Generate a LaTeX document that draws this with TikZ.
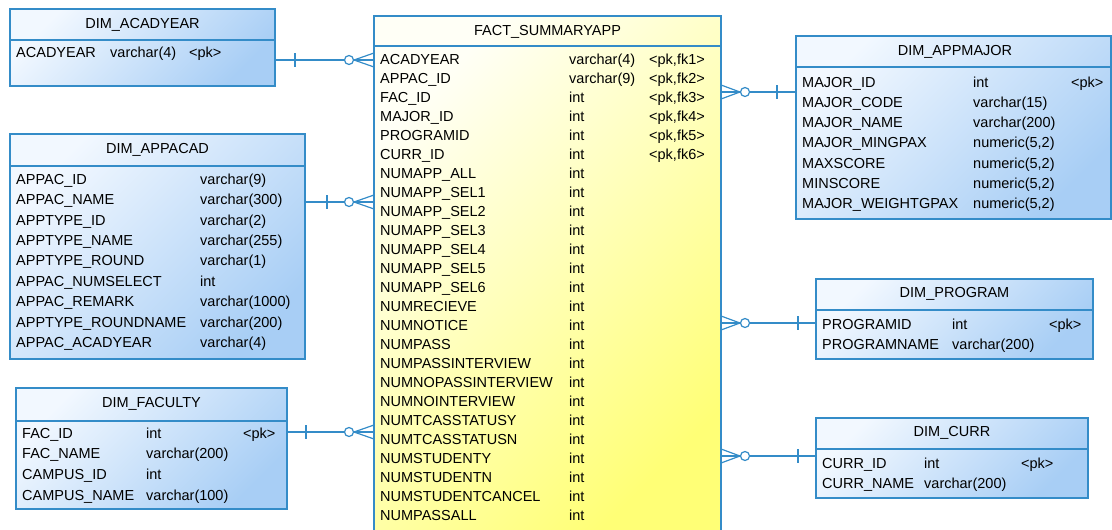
\documentclass[tikz,border=0pt]{standalone}
\usepackage{fontspec}
\setmainfont{Liberation Sans}
\usetikzlibrary{calc}

\definecolor{erblue}{RGB}{52,140,200}
\definecolor{dimA}{RGB}{242,248,255}
\definecolor{dimB}{RGB}{168,206,245}
\definecolor{factA}{RGB}{255,255,246}
\definecolor{factB}{RGB}{255,255,118}
\newcommand{\tabfont}{\fontsize{14.5}{17}\selectfont}

\tikzset{
  dimtab/.style={draw=erblue, line width=1.5pt, top color=dimA, bottom color=dimB,
    shading angle=45, anchor=north west, inner sep=0pt, outer sep=0pt},
  facttab/.style={draw=erblue, line width=1.5pt, top color=factA, bottom color=factB,
    shading angle=45, anchor=north west, inner sep=0pt, outer sep=0pt},
  border/.style={draw=erblue, line width=1.5pt},
  hdr/.style={font=\tabfont, inner sep=0pt},
  fld/.style={font=\tabfont, anchor=base west, yshift=-5.2pt, inner sep=0pt},
  conn/.style={draw=erblue, line width=1.2pt},
}

\begin{document}
\begin{tikzpicture}[x=1pt,y=-1pt]
\useasboundingbox (0,0) rectangle (1112,530);

% tables
\node[dimtab, minimum width=265pt, minimum height=77pt] (acadyear) at (10,9) {};
\node[dimtab, minimum width=295pt, minimum height=225pt] (appacad) at (10,134) {};
\node[dimtab, minimum width=271pt, minimum height=121pt] (faculty) at (16,388) {};
\node[facttab, minimum width=347pt, minimum height=522pt] (fact) at (374,16) {};
\node[dimtab, minimum width=315pt, minimum height=183pt] (appmajor) at (796,36) {};
\node[dimtab, minimum width=277pt, minimum height=80pt] (program) at (816,279) {};
\node[dimtab, minimum width=272pt, minimum height=80pt] (curr) at (816,418) {};

% header lines
\draw[border] (acadyear.west |- 0,40) -- (acadyear.east |- 0,40);
\draw[border] (appacad.west |- 0,166) -- (appacad.east |- 0,166);
\draw[border] (faculty.west |- 0,421) -- (faculty.east |- 0,421);
\draw[border] (fact.west |- 0,46) -- (fact.east |- 0,46);
\draw[border] (appmajor.west |- 0,67) -- (appmajor.east |- 0,67);
\draw[border] (program.west |- 0,310) -- (program.east |- 0,310);
\draw[border] (curr.west |- 0,449) -- (curr.east |- 0,449);

% headers
\node[hdr] (acadyear-h) at (142.5,25) {DIM\_ACADYEAR};
\node[hdr] (appacad-h) at (157.5,150) {DIM\_APPACAD};
\node[hdr] (faculty-h) at (151.5,404) {DIM\_FACULTY};
\node[hdr] (fact-h) at (547.5,32) {FACT\_SUMMARYAPP};
\node[hdr] (appmajor-h) at (955,52) {DIM\_APPMAJOR};
\node[hdr] (program-h) at (954.5,294) {DIM\_PROGRAM};
\node[hdr] (curr-h) at (952,433) {DIM\_CURR};

% DIM_ACADYEAR
\node[fld] (acadyear-n0) at (16,52) {ACADYEAR};
\node[fld] (acadyear-t0) at (110,52) {varchar(4)};
\node[fld] (acadyear-k0) at (189,52) {<pk>};

% DIM_APPACAD
\foreach \nm/\ty [count=\i from 0] in {APPAC\_ID/varchar(9), APPAC\_NAME/varchar(300),
  APPTYPE\_ID/varchar(2), APPTYPE\_NAME/varchar(255), APPTYPE\_ROUND/varchar(1),
  APPAC\_NUMSELECT/int, APPAC\_REMARK/varchar(1000), APPTYPE\_ROUNDNAME/varchar(200),
  APPAC\_ACADYEAR/varchar(4)}{
  \node[fld] (appacad-n\i) at (16,179+20.4*\i) {\nm};
  \node[fld] (appacad-t\i) at (200,179+20.4*\i) {\ty};
}

% DIM_FACULTY
\foreach \nm/\ty [count=\i from 0] in {FAC\_ID/int, FAC\_NAME/varchar(200),
  CAMPUS\_ID/int, CAMPUS\_NAME/varchar(100)}{
  \node[fld] (faculty-n\i) at (22,433+20.6*\i) {\nm};
  \node[fld] (faculty-t\i) at (146,433+20.6*\i) {\ty};
}
\node[fld] (faculty-k0) at (243,433) {<pk>};

% FACT_SUMMARYAPP
\foreach \nm/\ty/\ky [count=\i from 0] in {{ACADYEAR/varchar(4)/<pk,fk1>},
  {APPAC\_ID/varchar(9)/<pk,fk2>}, {FAC\_ID/int/<pk,fk3>}, {MAJOR\_ID/int/<pk,fk4>},
  {PROGRAMID/int/<pk,fk5>}, {CURR\_ID/int/<pk,fk6>}}{
  \node[fld] (fact-n\i) at (380,59+19*\i) {\nm};
  \node[fld] (fact-t\i) at (569,59+19*\i) {\ty};
  \node[fld] (fact-k\i) at (649,59+19*\i) {\ky};
}
\foreach \nm [count=\i from 6] in {NUMAPP\_ALL, NUMAPP\_SEL1, NUMAPP\_SEL2, NUMAPP\_SEL3,
  NUMAPP\_SEL4, NUMAPP\_SEL5, NUMAPP\_SEL6, NUMRECIEVE, NUMNOTICE, NUMPASS,
  NUMPASSINTERVIEW, NUMNOPASSINTERVIEW, NUMNOINTERVIEW, NUMTCASSTATUSY,
  NUMTCASSTATUSN, NUMSTUDENTY, NUMSTUDENTN, NUMSTUDENTCANCEL, NUMPASSALL}{
  \node[fld] (fact-n\i) at (380,59+19*\i) {\nm};
  \node[fld] (fact-t\i) at (569,59+19*\i) {int};
}

% DIM_APPMAJOR
\foreach \nm/\ty [count=\i from 0] in {MAJOR\_ID/int, MAJOR\_CODE/varchar(15),
  MAJOR\_NAME/varchar(200), {MAJOR\_MINGPAX/numeric(5,2)}, {MAXSCORE/numeric(5,2)},
  {MINSCORE/numeric(5,2)}, {MAJOR\_WEIGHTGPAX/numeric(5,2)}}{
  \node[fld] (appmajor-n\i) at (802,82+20.2*\i) {\nm};
  \node[fld] (appmajor-t\i) at (973,82+20.2*\i) {\ty};
}
\node[fld] (appmajor-k0) at (1071,82) {<pk>};

% DIM_PROGRAM
\node[fld] (program-n0) at (822,324) {PROGRAMID};
\node[fld] (program-t0) at (952,324) {int};
\node[fld] (program-k0) at (1049,324) {<pk>};
\node[fld] (program-n1) at (822,344) {PROGRAMNAME};
\node[fld] (program-t1) at (952,344) {varchar(200)};

% DIM_CURR
\node[fld] (curr-n0) at (822,463) {CURR\_ID};
\node[fld] (curr-t0) at (924,463) {int};
\node[fld] (curr-k0) at (1021,463) {<pk>};
\node[fld] (curr-n1) at (822,483) {CURR\_NAME};
\node[fld] (curr-t1) at (924,483) {varchar(200)};

% relationships, left side
\foreach \tab/\y/\bar in {acadyear/60/295, appacad/202/327, faculty/432/306}{
  \draw[conn] (\tab.east |- 0,\y) -- (fact.west |- 0,\y);
  \draw[conn] (\bar,\y-7) -- (\bar,\y+7);
  \draw[conn] (fact.west |- 0,\y-7) -- (354,\y) -- (fact.west |- 0,\y+7);
  \draw[conn, fill=white] (349,\y) circle (4.5);
}
% relationships, right side
\foreach \tab/\y/\bar in {appmajor/92/777, program/323/798, curr/456/798}{
  \draw[conn] (fact.east |- 0,\y) -- (\tab.west |- 0,\y);
  \draw[conn] (\bar,\y-7) -- (\bar,\y+7);
  \draw[conn] (fact.east |- 0,\y-7) -- (740,\y) -- (fact.east |- 0,\y+7);
  \draw[conn, fill=white] (745,\y) circle (4.5);
}
\end{tikzpicture}
\end{document}
